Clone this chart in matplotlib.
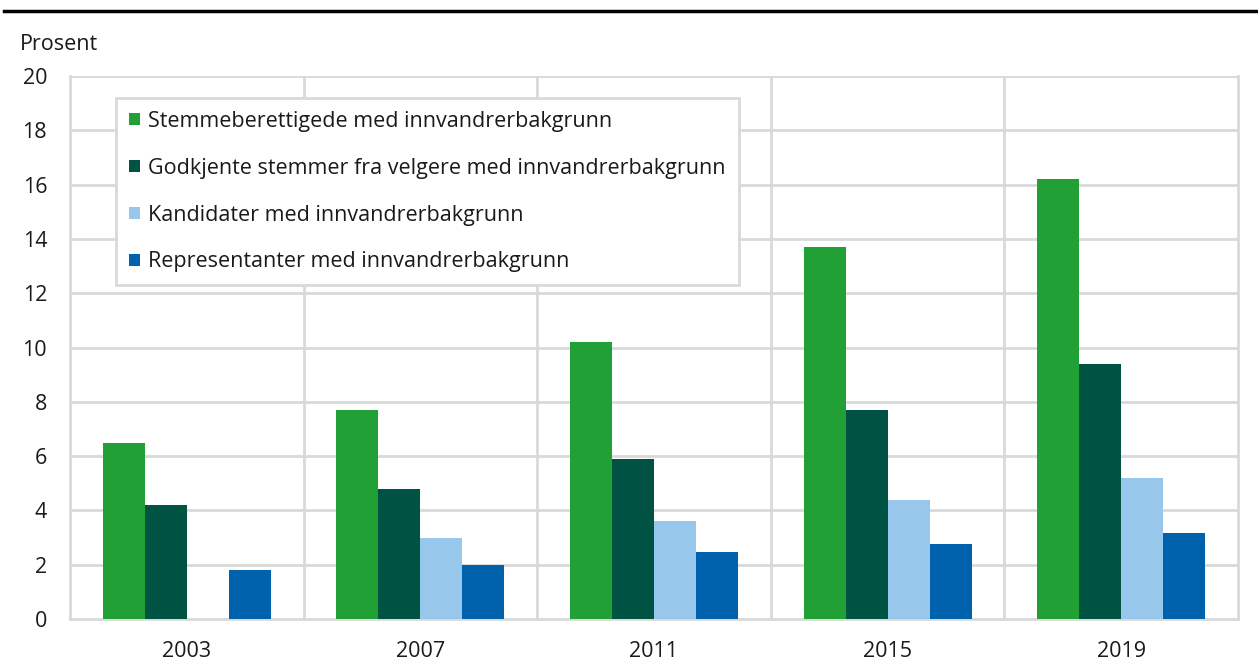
import numpy as np
import matplotlib.pyplot as plt
from matplotlib.lines import Line2D

plt.rcParams['font.family'] = ['Open Sans', 'DejaVu Sans']

years = ['2003', '2007', '2011', '2015', '2019']
stemmeberettigede = [6.5, 7.7, 10.2, 13.7, 16.2]
godkjente = [4.2, 4.8, 5.9, 7.7, 9.4]
kandidater = [0, 3.0, 3.6, 4.4, 5.2]
representanter = [1.8, 2.0, 2.45, 2.75, 3.15]

labels = ['Stemmeberettigede med innvandrerbakgrunn',
          'Godkjente stemmer fra velgere med innvandrerbakgrunn',
          'Kandidater med innvandrerbakgrunn',
          'Representanter med innvandrerbakgrunn']
colors = ['#21a036', '#005342', '#97c8ec', '#0062ac']
series = [stemmeberettigede, godkjente, kandidater, representanter]

fig = plt.figure(figsize=(12.58, 6.68), dpi=100)
ax = fig.add_axes([70/1258, 49/668, 1168/1258, 543/668])

x = np.arange(len(years))
w = 0.18
for i, (vals, lab, col) in enumerate(zip(series, labels, colors)):
    ax.bar(x + (i - 1.5) * w, vals, width=w, color=col, label=lab, zorder=3)

ax.set_xlim(-0.5, len(years) - 0.5)
ax.set_ylim(0, 20)
ax.set_yticks(range(0, 21, 2))
ax.set_xticks(x)
ax.set_xticklabels(years)
ax.tick_params(length=0, labelsize=15.5, colors='#1a1a1a')
ax.tick_params(axis='y', pad=16.5)
ax.tick_params(axis='x', pad=16)

grid_col = '#d9d9d9'
for y in range(2, 21, 2):
    ax.axhline(y, color=grid_col, lw=2, zorder=1)
for b in np.arange(0.5, len(years) - 0.5, 1):
    ax.axvline(b, color=grid_col, lw=2, zorder=1)
for s in ['left', 'right', 'bottom']:
    ax.spines[s].set_color(grid_col)
    ax.spines[s].set_linewidth(2)
ax.spines['top'].set_visible(False)

leg = ax.legend(loc='upper left', bbox_to_anchor=(0.0394, 0.9595), fontsize=15.5,
                frameon=True, fancybox=False, edgecolor=grid_col, framealpha=1,
                handlelength=0.5, handleheight=0.5, handletextpad=0.4,
                labelspacing=1.2, borderpad=0.6, borderaxespad=0)
leg.get_frame().set_linewidth(2)
for t in leg.get_texts():
    t.set_color('#1a1a1a')
leg.set_zorder(5)

fig.text(20/1258, 1 - 45/668, 'Prosent', fontsize=15.5, color='#1a1a1a', va='center', ha='left')
fig.add_artist(Line2D([4/1258, 1], [1 - 11/668, 1 - 11/668], color='black', lw=2.5))

fig.savefig('out.png', dpi=100)
